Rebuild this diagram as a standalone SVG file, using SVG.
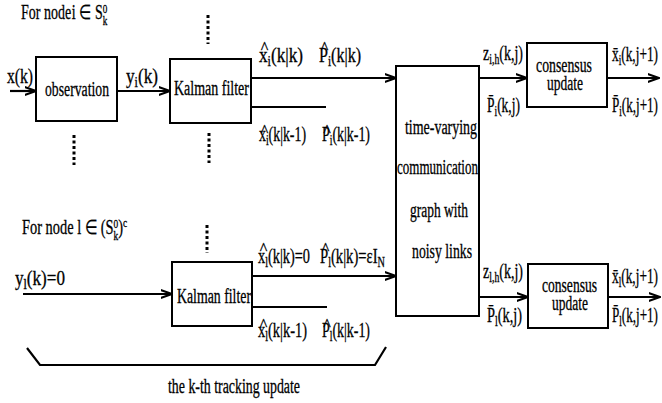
<svg xmlns="http://www.w3.org/2000/svg" width="662" height="403" viewBox="0 0 662 403">
<defs>
<style>
text{font-family:"Liberation Serif","Times New Roman",serif;font-size:20px;fill:#000;stroke:#000;stroke-width:0.3}
.s{font-size:14px}
.t{font-size:13px}
.hat{font-size:16px}
.box{fill:#fff;stroke:#000;stroke-width:2}
.ln{fill:none;stroke:#000;stroke-width:2.2}
.dot{fill:none;stroke:#000;stroke-width:3;stroke-dasharray:3,2.5}
</style>
<marker id="arr" viewBox="0 0 12 10" refX="11.5" refY="5" markerWidth="12" markerHeight="10" markerUnits="userSpaceOnUse" orient="auto">
<path d="M0,1 L11.5,5 L0,9" fill="none" stroke="#000" stroke-width="2"/>
</marker>
</defs>
<rect width="662" height="403" fill="#fff"/>

<g id="connectors">
<line class="ln" x1="10" y1="91" x2="36" y2="91" marker-end="url(#arr)"/>
<line class="ln" x1="117" y1="91" x2="170" y2="91" marker-end="url(#arr)"/>
<line class="ln" x1="251" y1="78" x2="396" y2="78" marker-end="url(#arr)"/>
<line class="ln" x1="251" y1="107" x2="326" y2="107"/>
<line class="ln" x1="479" y1="78" x2="527" y2="78" marker-end="url(#arr)"/>
<line class="ln" x1="607" y1="78" x2="659" y2="78" marker-end="url(#arr)"/>
<line class="ln" x1="23" y1="294" x2="172" y2="294" marker-end="url(#arr)"/>
<line class="ln" x1="252" y1="276" x2="396" y2="276" marker-end="url(#arr)"/>
<line class="ln" x1="252" y1="307" x2="327" y2="307"/>
<line class="ln" x1="479" y1="297" x2="528" y2="297" marker-end="url(#arr)"/>
<line class="ln" x1="608" y1="297" x2="660" y2="297" marker-end="url(#arr)"/>
<line class="dot" x1="208" y1="15" x2="208" y2="44"/>
<line class="dot" x1="74" y1="135" x2="74" y2="165"/>
<line class="dot" x1="209" y1="133" x2="209" y2="163"/>
<line class="dot" x1="207" y1="225" x2="207" y2="253"/>
<polyline class="ln" points="27,348 40,365 375,365 386,347"/>
</g>

<g id="labels-top">
<text transform="translate(21,19) scale(0.70,1)">For node<tspan dx="1">i</tspan> ∈ S<tspan class="t" dy="6">k</tspan><tspan class="t" dx="-6.5" dy="-12">0</tspan></text>
<text x="7" y="83" textLength="26" lengthAdjust="spacingAndGlyphs">x(k)</text>
<text x="126" y="83" textLength="32" lengthAdjust="spacingAndGlyphs">y<tspan class="s" dy="4">i</tspan><tspan dy="-4">(k)</tspan></text>
</g>

<g id="observation">
<rect class="box" x="36" y="57" width="81" height="64"/>
<text x="45" y="96" textLength="64" lengthAdjust="spacingAndGlyphs">observation</text>
</g>

<g id="kalman-i">
<rect class="box" x="170" y="59" width="81" height="64"/>
<text x="174" y="95" textLength="75" lengthAdjust="spacingAndGlyphs">Kalman filter</text>
<text class="hat" x="264.5" y="53" text-anchor="middle">^</text>
<text x="259" y="62" textLength="44" lengthAdjust="spacingAndGlyphs">x<tspan class="s" dy="4">i</tspan><tspan dy="-4">(k|k)</tspan></text>
<text class="hat" x="324.5" y="53" text-anchor="middle">^</text>
<text x="319" y="62" textLength="42" lengthAdjust="spacingAndGlyphs">P<tspan class="s" dy="4">i</tspan><tspan dy="-4">(k|k)</tspan></text>
<text class="hat" x="264.5" y="136" text-anchor="middle">^</text>
<text x="259" y="141" textLength="47" lengthAdjust="spacingAndGlyphs">x<tspan class="s" dy="4">i</tspan><tspan dy="-4">(k|k-1)</tspan></text>
<text class="hat" x="327" y="136" text-anchor="middle">^</text>
<text x="322" y="141" textLength="48" lengthAdjust="spacingAndGlyphs">P<tspan class="s" dy="4">i</tspan><tspan dy="-4">(k|k-1)</tspan></text>
</g>

<g id="graph">
<rect class="box" x="396" y="66" width="83" height="250"/>
<text x="405" y="134" textLength="72" lengthAdjust="spacingAndGlyphs">time-varying</text>
<text x="397" y="174" textLength="81" lengthAdjust="spacingAndGlyphs">communication</text>
<text x="410" y="217" textLength="58" lengthAdjust="spacingAndGlyphs">graph with</text>
<text x="412" y="258" textLength="60" lengthAdjust="spacingAndGlyphs">noisy links</text>
</g>

<g id="consensus-i">
<rect class="box" x="527" y="43" width="80" height="64"/>
<text x="536" y="72" textLength="56" lengthAdjust="spacingAndGlyphs">consensus</text>
<text x="547" y="90" textLength="36" lengthAdjust="spacingAndGlyphs">update</text>
<text x="483" y="60" textLength="40" lengthAdjust="spacingAndGlyphs">z<tspan class="s" dy="4">i,h</tspan><tspan dy="-4">(k,j)</tspan></text>
<text x="487" y="112" textLength="33" lengthAdjust="spacingAndGlyphs">P̄<tspan class="s" dy="4">i</tspan><tspan dy="-4">(k,j)</tspan></text>
<text x="612" y="61" textLength="46" lengthAdjust="spacingAndGlyphs">x̄<tspan class="s" dy="4">i</tspan><tspan dy="-4">(k,j+1)</tspan></text>
<text x="612" y="112" textLength="46" lengthAdjust="spacingAndGlyphs">P̄<tspan class="s" dy="4">i</tspan><tspan dy="-4">(k,j+1)</tspan></text>
</g>

<g id="labels-bottom">
<text transform="translate(22,234) scale(0.72,1)">For node l ∈ (S<tspan class="t" dy="6">k</tspan><tspan class="t" dx="-6.5" dy="-12">0</tspan><tspan dy="6">)</tspan><tspan class="t" dy="-7">c</tspan></text>
<text x="15" y="285" textLength="50" lengthAdjust="spacingAndGlyphs">y<tspan class="s" dy="4">l</tspan><tspan dy="-4">(k)=0</tspan></text>
<text x="168" y="393" textLength="132" lengthAdjust="spacingAndGlyphs">the k-th tracking update</text>
</g>

<g id="kalman-l">
<rect class="box" x="172" y="262" width="80" height="64"/>
<text x="177" y="303" textLength="74" lengthAdjust="spacingAndGlyphs">Kalman filter</text>
<text class="hat" x="263.5" y="254" text-anchor="middle">^</text>
<text x="258" y="263" textLength="52" lengthAdjust="spacingAndGlyphs">x<tspan class="s" dy="4">l</tspan><tspan dy="-4">(k|k)=0</tspan></text>
<text class="hat" x="325.5" y="254" text-anchor="middle">^</text>
<text x="320" y="263" textLength="65" lengthAdjust="spacingAndGlyphs">P<tspan class="s" dy="4">l</tspan><tspan dy="-4">(k|k)=εI</tspan><tspan class="s" dy="4">N</tspan></text>
<text class="hat" x="263.5" y="330" text-anchor="middle">^</text>
<text x="258" y="337" textLength="49" lengthAdjust="spacingAndGlyphs">x<tspan class="s" dy="4">l</tspan><tspan dy="-4">(k|k-1)</tspan></text>
<text class="hat" x="327" y="330" text-anchor="middle">^</text>
<text x="322" y="337" textLength="48" lengthAdjust="spacingAndGlyphs">P<tspan class="s" dy="4">l</tspan><tspan dy="-4">(k|k-1)</tspan></text>
</g>

<g id="consensus-l">
<rect class="box" x="528" y="264" width="80" height="64"/>
<text x="542" y="292" textLength="55" lengthAdjust="spacingAndGlyphs">consensus</text>
<text x="552" y="310" textLength="36" lengthAdjust="spacingAndGlyphs">update</text>
<text x="483" y="278" textLength="40" lengthAdjust="spacingAndGlyphs">z<tspan class="s" dy="4">l,h</tspan><tspan dy="-4">(k,j)</tspan></text>
<text x="487" y="322" textLength="35" lengthAdjust="spacingAndGlyphs">P̄<tspan class="s" dy="4">l</tspan><tspan dy="-4">(k,j)</tspan></text>
<text x="612" y="283" textLength="46" lengthAdjust="spacingAndGlyphs">x̄<tspan class="s" dy="4">l</tspan><tspan dy="-4">(k,j+1)</tspan></text>
<text x="612" y="322" textLength="46" lengthAdjust="spacingAndGlyphs">P̄<tspan class="s" dy="4">l</tspan><tspan dy="-4">(k,j+1)</tspan></text>
</g>
</svg>
